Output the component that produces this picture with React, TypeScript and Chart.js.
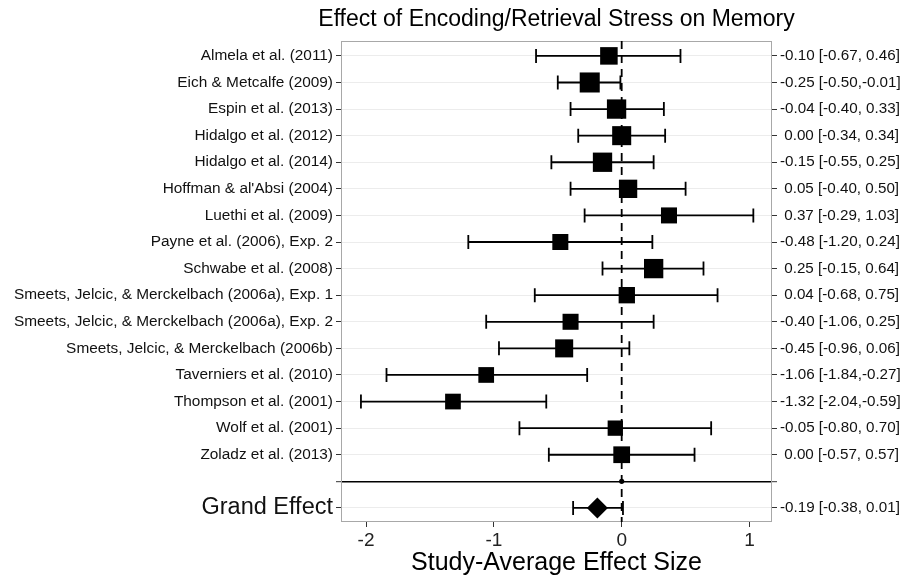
import React, { useEffect, useRef } from 'react';
import { Chart, registerables } from 'chart.js';

Chart.register(...registerables);

// Study-level results: standardized effect size with 95% CI
const studyLabels = [
  'Almela et al. (2011)',
  'Eich & Metcalfe (2009)',
  'Espin et al. (2013)',
  'Hidalgo et al. (2012)',
  'Hidalgo et al. (2014)',
  "Hoffman & al'Absi (2004)",
  'Luethi et al. (2009)',
  'Payne et al. (2006), Exp. 2',
  'Schwabe et al. (2008)',
  'Smeets, Jelcic, & Merckelbach (2006a), Exp. 1',
  'Smeets, Jelcic, & Merckelbach (2006a), Exp. 2',
  'Smeets, Jelcic, & Merckelbach (2006b)',
  'Taverniers et al. (2010)',
  'Thompson et al. (2001)',
  'Wolf et al. (2001)',
  'Zoladz et al. (2013)',
];
const effectSize = [-0.10, -0.25, -0.04, 0.00, -0.15, 0.05, 0.37, -0.48, 0.25, 0.04, -0.40, -0.45, -1.06, -1.32, -0.05, 0.00];
const ciLower = [-0.67, -0.50, -0.40, -0.34, -0.55, -0.40, -0.29, -1.20, -0.15, -0.68, -1.06, -0.96, -1.84, -2.04, -0.80, -0.57];
const ciUpper = [0.46, -0.01, 0.33, 0.34, 0.25, 0.50, 1.03, 0.24, 0.64, 0.75, 0.25, 0.06, -0.27, -0.59, 0.70, 0.57];
// Relative study weights (%), shown through the box size
const studyWeight = [6.27, 8.20, 7.62, 7.40, 7.62, 6.86, 5.24, 5.24, 7.62, 5.45, 5.24, 6.64, 5.04, 5.04, 4.79, 5.72];

const grandLabel = 'Grand Effect';
const grandEffect = -0.19;
const grandLower = -0.38;
const grandUpper = 0.01;

const xTickValues = [-2, -1, 0, 1];

const chartTitle = 'Effect of Encoding/Retrieval Stress on Memory';

const FONT = "'Liberation Sans', Arial, Helvetica, sans-serif";
const nStudies = studyLabels.length;
const separatorRow = nStudies + 1;
const grandRow = nStudies + 2;
const rowTicks = Array.from({ length: grandRow }, (_, i) => i + 1);

const fmt = (v: number) => v.toFixed(2).padStart(5, ' ');
const ciText = (e: number, lo: number, hi: number) => `${fmt(e)} [${fmt(lo)},${fmt(hi)}]`;

const leftLabel = (row: number) => {
  if (row >= 1 && row <= nStudies) return studyLabels[row - 1];
  if (row === grandRow) return grandLabel;
  return '';
};
const rightLabel = (row: number) => {
  if (row >= 1 && row <= nStudies) {
    const i = row - 1;
    return ciText(effectSize[i], ciLower[i], ciUpper[i]);
  }
  if (row === grandRow) return ciText(grandEffect, grandLower, grandUpper);
  return '';
};

const boxSide = (w: number) => 7 * Math.sqrt(w);

// Title centred over the plotting panel (not the whole canvas)
const panelTitle = {
  id: 'panelTitle',
  afterDraw(chart: any) {
    const { ctx, chartArea } = chart;
    ctx.save();
    ctx.fillStyle = '#000';
    ctx.font = `23px ${FONT}`;
    ctx.textAlign = 'center';
    ctx.textBaseline = 'middle';
    ctx.fillText(chartTitle, (chartArea.left + chartArea.right) / 2, 20);
    ctx.restore();
  },
};

const forestMarks = {
  id: 'forestMarks',
  beforeDatasetsDraw(chart: any) {
    const { ctx, chartArea, scales } = chart;
    const xs = scales.x;
    const ys = scales.y;
    ctx.save();
    // panel frame
    ctx.strokeStyle = '#a8a8a8';
    ctx.lineWidth = 1;
    ctx.strokeRect(
      chartArea.left + 0.5,
      chartArea.top + 0.5,
      chartArea.right - chartArea.left - 1,
      chartArea.bottom - chartArea.top - 1
    );
    // reference line at zero effect
    const x0 = xs.getPixelForValue(0);
    ctx.strokeStyle = '#000';
    ctx.lineWidth = 1.8;
    ctx.setLineDash([8, 6]);
    ctx.beginPath();
    ctx.moveTo(x0, chartArea.top);
    ctx.lineTo(x0, chartArea.bottom);
    ctx.stroke();
    ctx.setLineDash([]);
    // confidence-interval whiskers
    const whisker = (lo: number, hi: number, row: number) => {
      const xl = xs.getPixelForValue(lo);
      const xh = xs.getPixelForValue(hi);
      const yp = ys.getPixelForValue(row);
      const cap = 7;
      ctx.beginPath();
      ctx.moveTo(xl, yp);
      ctx.lineTo(xh, yp);
      ctx.moveTo(xl, yp - cap);
      ctx.lineTo(xl, yp + cap);
      ctx.moveTo(xh, yp - cap);
      ctx.lineTo(xh, yp + cap);
      ctx.stroke();
    };
    ctx.strokeStyle = '#000';
    ctx.lineWidth = 1.8;
    for (let i = 0; i < nStudies; i++) whisker(ciLower[i], ciUpper[i], i + 1);
    whisker(grandLower, grandUpper, grandRow);
    ctx.restore();
  },
  afterDatasetsDraw(chart: any) {
    const { ctx, scales } = chart;
    const xp = scales.x.getPixelForValue(0);
    const yp = scales.y.getPixelForValue(separatorRow);
    ctx.save();
    ctx.fillStyle = '#000';
    ctx.beginPath();
    ctx.arc(xp, yp, 2.6, 0, Math.PI * 2);
    ctx.fill();
    ctx.restore();
  },
};

const rowScale = (position: 'left' | 'right', labelFn: (r: number) => string, width: number) => ({
  type: 'linear' as const,
  position,
  min: 0.44,
  max: grandRow + 0.53,
  reverse: true,
  afterBuildTicks: (s: any) => {
    s.ticks = rowTicks.map((v) => ({ value: v }));
  },
  afterFit: (s: any) => {
    s.width = width;
  },
  border: { display: false },
  grid: {
    drawOnChartArea: position === 'left',
    drawTicks: true,
    tickLength: 5,
    tickColor: '#333',
    tickWidth: 1,
    color: (c: any) => (c.tick && c.tick.value === separatorRow ? '#000' : '#ececec'),
    lineWidth: (c: any) => (c.tick && c.tick.value === separatorRow ? 1.4 : 1),
  },
  ticks: {
    autoSkip: false,
    padding: 3,
    color: '#111',
    font: (c: any) => ({
      family: FONT,
      size: position === 'left' ? (c.tick && c.tick.value === grandRow ? 23.5 : 15.4) : 15.2,
    }),
    callback: (v: any) => labelFn(Math.round(Number(v))),
  },
});

export default function App() {
  const canvasRef = useRef<HTMLCanvasElement | null>(null);

  useEffect(() => {
    const canvas = canvasRef.current;
    if (!canvas) return;
    Chart.defaults.font.family = FONT;

    const chart = new Chart(canvas, {
      type: 'scatter',
      data: {
        datasets: [
          {
            label: 'Studies',
            data: effectSize.map((v, i) => ({ x: v, y: i + 1 })),
            pointStyle: 'rect',
            pointRadius: studyWeight.map((w) => boxSide(w) / Math.SQRT2),
            pointHoverRadius: studyWeight.map((w) => boxSide(w) / Math.SQRT2),
            backgroundColor: '#000',
            borderWidth: 0,
            yAxisID: 'y',
          },
          {
            label: grandLabel,
            data: [{ x: grandEffect, y: grandRow }],
            pointStyle: 'rectRot',
            pointRadius: 10.5,
            pointHoverRadius: 10.5,
            backgroundColor: '#000',
            borderWidth: 0,
            yAxisID: 'y',
          },
        ],
      },
      options: {
        animation: false,
        responsive: false,
        devicePixelRatio: 1,
        layout: { padding: { top: 41, left: 0, right: 0, bottom: 0 } },
        events: [],
        plugins: {
          legend: { display: false },
          tooltip: { enabled: false },
          title: { display: false },
        },
        scales: {
          x: {
            type: 'linear',
            position: 'bottom',
            min: -2.196,
            max: 1.176,
            afterBuildTicks: (s: any) => {
              s.ticks = xTickValues.map((v) => ({ value: v }));
            },
            afterFit: (s: any) => {
              s.height = 59;
            },
            border: { display: false },
            grid: {
              drawOnChartArea: false,
              drawTicks: true,
              tickLength: 5,
              tickColor: '#333',
              tickWidth: 1,
            },
            ticks: {
              padding: 2,
              color: '#222',
              font: { family: FONT, size: 19 },
              callback: (v: any) => String(v),
            },
            title: {
              display: true,
              text: 'Study-Average Effect Size',
              color: '#000',
              font: { family: FONT, size: 25 },
              padding: { top: 0, bottom: 3 },
            },
          },
          y: rowScale('left', leftLabel, 341),
          yRight: rowScale('right', rightLabel, 133),
        } as any,
      },
      plugins: [forestMarks, panelTitle],
    } as any);

    return () => chart.destroy();
  }, []);

  return (
    <div style={{ position: 'absolute', left: 0, top: 0, width: 905, height: 581, background: '#fff' }}>
      <canvas ref={canvasRef} width={905} height={581} style={{ display: 'block' }} />
    </div>
  );
}
